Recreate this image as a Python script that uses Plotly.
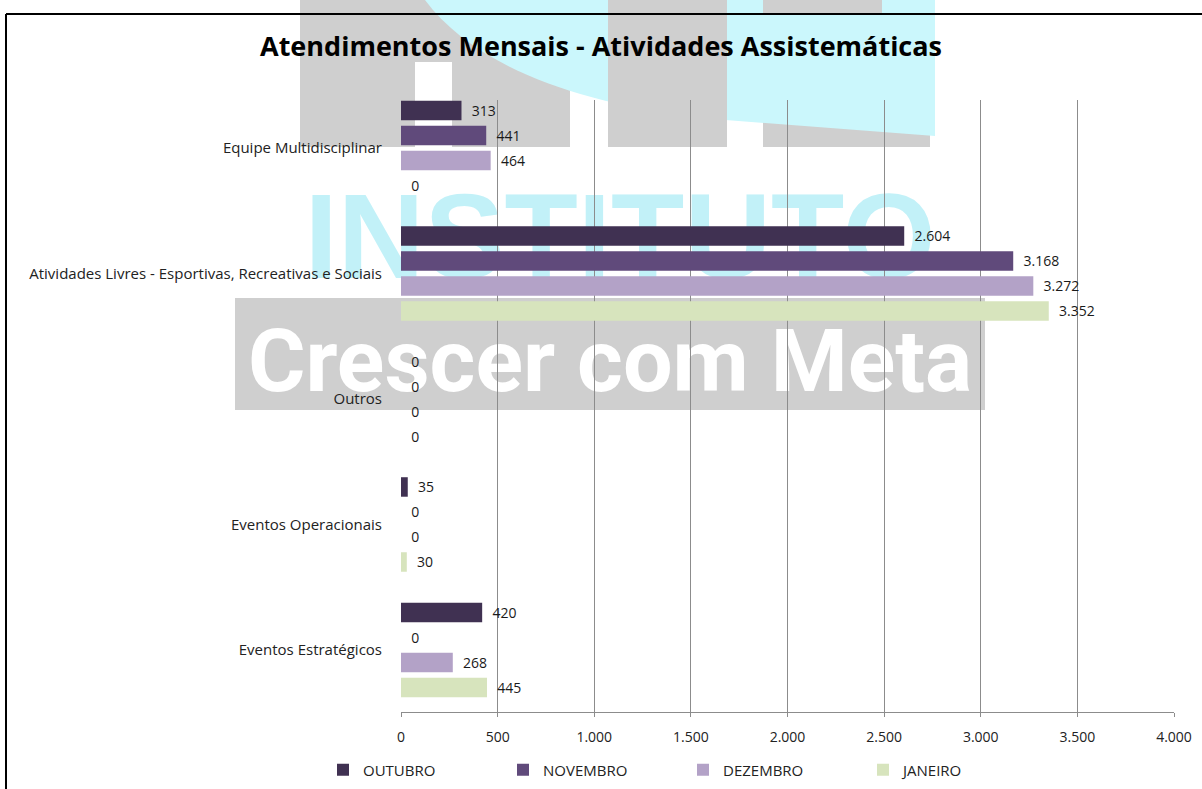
import plotly.graph_objects as go

# ---------------- data ----------------
categories = [
    "Equipe Multidisciplinar",
    "Atividades Livres - Esportivas, Recreativas e Sociais",
    "Outros",
    "Eventos Operacionais",
    "Eventos Estratégicos",
]
series_names = ["OUTUBRO", "NOVEMBRO", "DEZEMBRO", "JANEIRO"]
outubro = [313, 2604, 0, 35, 420]
novembro = [441, 3168, 0, 0, 0]
dezembro = [464, 3272, 0, 0, 268]
janeiro = [0, 3352, 0, 30, 445]
x_ticks = [0, 500, 1000, 1500, 2000, 2500, 3000, 3500, 4000]

title_text = "Atendimentos Mensais - Atividades Assistemáticas"
colors = ["#403152", "#604A7B", "#B3A2C7", "#D7E4BD"]

# ---------------- geometry ----------------
W, H = 1202, 789
L, R, T, B = 401, 28, 100, 77
PW = W - L - R
PH = H - T - B


def px(x):
    return (x - L) / PW


def py(y):
    return (H - B - y) / PH


FONT = "Open Sans, Lato, DejaVu Sans, sans-serif"

fig = go.Figure()
for name, vals, col in zip(series_names, [outubro, novembro, dezembro, janeiro], colors):
    fig.add_trace(go.Bar(
        name=name,
        y=categories,
        x=vals,
        orientation="h",
        marker=dict(color=col, line=dict(width=0)),
        texttemplate="\u00a0\u00a0%{x:,d}",
        textposition="outside",
        textfont=dict(family=FONT, size=14, color="#1a1a1a"),
        cliponaxis=False,
        constraintext="none",
        hoverinfo="x+y",
    ))

# ---------------- watermark (decorative background) ----------------
gray = "#CFCFCF"
cyan = "#CBF7FC"
shapes = []


def rect(x0, y0, x1, y1, color, **kw):
    d = dict(type="rect", xref="paper", yref="paper",
             x0=px(x0), x1=px(x1), y0=py(y0), y1=py(y1),
             fillcolor=color, line=dict(width=0), layer="below")
    d.update(kw)
    return d


shapes.append(rect(300, 0, 415, 147, gray))
shapes.append(rect(415, 0, 452, 62, gray))
shapes.append(rect(452, 0, 570, 147, gray))
shapes.append(rect(763, 0, 930, 147, gray))
# cyan swoosh
pts = [(425, 0), (470, 60), (560, 100), (700, 118), (935, 136), (935, 0)]
path = "M {} {} C {} {}, {} {}, {} {} L {} {} L {} {} Z".format(
    *[v for p in pts for v in (px(p[0]), py(p[1]))])
shapes.append(dict(type="path", xref="paper", yref="paper", path=path,
                   fillcolor=cyan, line=dict(width=0), layer="below"))
shapes.append(rect(608, 0, 727, 147, gray))
shapes.append(rect(763, 0, 882, 13, gray))
# INSTITUTO lettering
shapes.append(rect(290, 172, 950, 277, "rgba(0,0,0,0)",
                   label=dict(text="INSTITUTO", textposition="middle center",
                              font=dict(family="Liberation Sans, Arial, sans-serif",
                                        size=120, color="#C2F1F8", weight="bold"))))
# Crescer com Meta band
shapes.append(rect(235, 298, 985, 410, gray,
                   label=dict(text="Crescer com Meta", textposition="middle center",
                              font=dict(family="Roboto, Liberation Sans, sans-serif",
                                        size=88, color="white", weight="bold"))))

# outer frame
shapes.append(dict(type="line", xref="paper", yref="paper", x0=px(6), x1=px(W + 5),
                   y0=py(14), y1=py(14), line=dict(color="black", width=2), layer="above"))
shapes.append(dict(type="line", xref="paper", yref="paper", x0=px(6), x1=px(6),
                   y0=py(14), y1=py(H + 5), line=dict(color="black", width=2), layer="above"))

fig.update_layout(
    width=W, height=H, autosize=False,
    margin=dict(l=L, r=R, t=T, b=B, pad=0, autoexpand=False),
    paper_bgcolor="white",
    plot_bgcolor="rgba(0,0,0,0)",
    separators=",.",
    barmode="group",
    bargap=0.203,
    bargroupgap=0.22,
    font=dict(family=FONT, size=13, color="#222222"),
    title=dict(text="<b>" + title_text + "</b>", x=0.5, xref="container", xanchor="center",
               y=1 - 47 / H, yref="container", yanchor="middle",
               font=dict(family=FONT, size=27, color="black")),
    xaxis=dict(range=[0, 4000], tickvals=x_ticks, tickformat=",d",
               showgrid=True, gridcolor="#8C8C8C", gridwidth=1,
               showline=True, linecolor="#8C8C8C", linewidth=1,
               ticks="outside", ticklen=4, tickcolor="#8C8C8C",
               ticklabelstandoff=8, zeroline=False, automargin=False,
               tickfont=dict(family=FONT, size=14, color="#222222")),
    yaxis=dict(type="category", categoryorder="array", categoryarray=categories,
               range=[4.494, -0.382], showgrid=False, zeroline=False,
               showline=False, ticks="", ticklabelstandoff=18, automargin=False,
               tickfont=dict(family=FONT, size=15, color="#222222")),
    legend=dict(orientation="h", xref="container", x=323 / W, xanchor="left",
                yref="container", y=1 - 770 / H, yanchor="middle",
                entrywidth=135, font=dict(family=FONT, size=15, color="#222222"),
                bgcolor="rgba(0,0,0,0)", traceorder="normal"),
    shapes=shapes,
)

fig.write_html("out.html", config={"displayModeBar": False},
               post_script="document.body.style.margin='0';document.body.style.overflow='hidden';")
